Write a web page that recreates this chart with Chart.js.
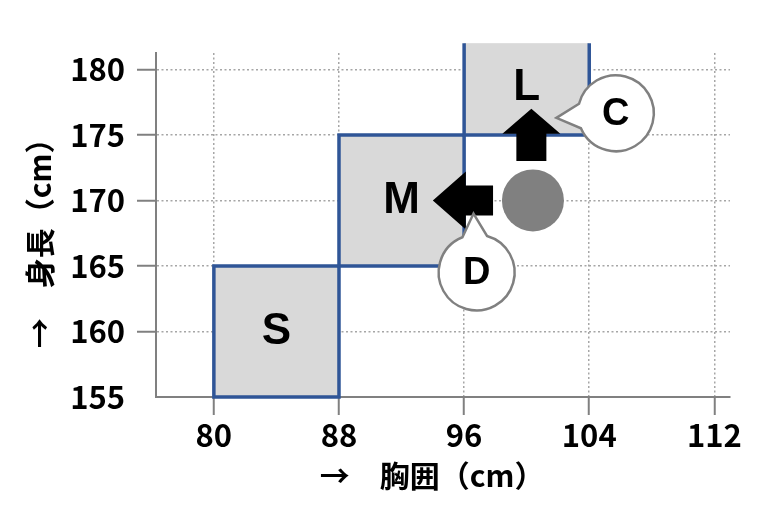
<!DOCTYPE html>
<html lang="ja">
<head>
<meta charset="utf-8">
<title>胸囲と身長のサイズ表</title>
<script src="https://cdn.jsdelivr.net/npm/chart.js@4.4.1/dist/chart.umd.min.js"></script>
<style>
  html, body { margin: 0; padding: 0; background: #fff; }
  #wrap { width: 768px; height: 515px; }
</style>
</head>
<body>
<div id="wrap"><canvas id="sizeChart" width="768" height="515"></canvas></div>
<script>
// tick labels
const chestTicks = [80, 88, 96, 104, 112];
const heightTicks = [155, 160, 165, 170, 175, 180];

// size boxes: chest range x height range
const sizeNames = ['S', 'M', 'L'];
const chestFrom = [80, 88, 96];
const chestTo = [88, 96, 104];
const heightFrom = [155, 165, 175];
const heightTo = [165, 175, 182];
const labelChest = [84, 92, 100];
const labelHeight = [160, 170, 178.6];

// the measured person (grey dot)
const personChest = [100.4];
const personHeight = [170];

// block arrows, from -> to
const arrowFromX = [97.85, 100.3];
const arrowFromY = [170, 173];
const arrowToX = [94, 100.3];
const arrowToY = [170, 177];

// speech bubbles
const calloutText = ['C', 'D'];
const calloutX = [105.7, 96.8];
const calloutY = [176.65, 164.5];
const calloutTipX = [101.9, 96.6];
const calloutTipY = [176.3, 169];

const JP = '"Noto Sans CJK JP", "Noto Sans", sans-serif';
const LATIN = '"Liberation Sans", Arial, sans-serif';
const GREY = '#808080';

const sizeBoxes = {
  id: 'sizeBoxes',
  afterDatasetsDraw(chart) {
    const { ctx, scales: { x, y } } = chart;
    ctx.save();
    for (let i = 0; i < sizeNames.length; i++) {
      const x1 = x.getPixelForValue(chestFrom[i]);
      const x2 = x.getPixelForValue(chestTo[i]);
      const y1 = y.getPixelForValue(heightFrom[i]);
      const y2 = y.getPixelForValue(heightTo[i]);
      ctx.fillStyle = '#d9d9d9';
      ctx.fillRect(x1, y2, x2 - x1, y1 - y2);
      ctx.strokeStyle = '#2f5597';
      ctx.lineWidth = 3.5;
      ctx.beginPath();
      if (heightTo[i] > y.max) {
        // runs off the top: no top edge
        ctx.moveTo(x1, y2);
        ctx.lineTo(x1, y1);
        ctx.lineTo(x2, y1);
        ctx.lineTo(x2, y2);
      } else {
        ctx.rect(x1, y2, x2 - x1, y1 - y2);
      }
      ctx.stroke();
      ctx.fillStyle = '#000';
      ctx.font = 'bold 44px ' + LATIN;
      ctx.textAlign = 'center';
      ctx.textBaseline = 'middle';
      ctx.fillText(sizeNames[i], x.getPixelForValue(labelChest[i]), y.getPixelForValue(labelHeight[i]));
    }
    ctx.restore();
  }
};

function blockArrow(ctx, x1, y1, x2, y2, bodyW, headW, headL) {
  const ang = Math.atan2(y2 - y1, x2 - x1);
  const len = Math.hypot(x2 - x1, y2 - y1);
  ctx.save();
  ctx.translate(x1, y1);
  ctx.rotate(ang);
  ctx.beginPath();
  ctx.moveTo(0, -bodyW / 2);
  ctx.lineTo(len - headL, -bodyW / 2);
  ctx.lineTo(len - headL, -headW / 2);
  ctx.lineTo(len, 0);
  ctx.lineTo(len - headL, headW / 2);
  ctx.lineTo(len - headL, bodyW / 2);
  ctx.lineTo(0, bodyW / 2);
  ctx.closePath();
  ctx.fillStyle = '#000';
  ctx.fill();
  ctx.restore();
}

function bubble(ctx, cx, cy, r, tx, ty, text) {
  const ang = Math.atan2(ty - cy, tx - cx);
  const half = 0.33;
  ctx.save();
  ctx.beginPath();
  ctx.arc(cx, cy, r, ang + half, ang - half + Math.PI * 2);
  ctx.lineTo(tx, ty);
  ctx.closePath();
  ctx.fillStyle = '#fff';
  ctx.fill();
  ctx.strokeStyle = GREY;
  ctx.lineWidth = 2.5;
  ctx.stroke();
  ctx.fillStyle = '#000';
  ctx.font = 'bold 38px ' + LATIN;
  ctx.textAlign = 'center';
  ctx.textBaseline = 'middle';
  ctx.fillText(text, cx, cy + 1);
  ctx.restore();
}

const overlays = {
  id: 'overlays',
  afterDraw(chart) {
    const { ctx, scales: { x, y } } = chart;
    const heads = [33, 25]; // head length per arrow, px
    for (let i = 0; i < arrowFromX.length; i++) {
      blockArrow(ctx,
        x.getPixelForValue(arrowFromX[i]), y.getPixelForValue(arrowFromY[i]),
        x.getPixelForValue(arrowToX[i]), y.getPixelForValue(arrowToY[i]),
        30, 58, heads[i]);
    }
    for (let i = 0; i < calloutText.length; i++) {
      bubble(ctx,
        x.getPixelForValue(calloutX[i]), y.getPixelForValue(calloutY[i]), 38,
        x.getPixelForValue(calloutTipX[i]), y.getPixelForValue(calloutTipY[i]),
        calloutText[i]);
    }
  }
};

const tickFont = { family: JP, size: 31, weight: 'bold' };
const titleFont = { family: JP, size: 30, weight: 'bold' };

new Chart(document.getElementById('sizeChart'), {
  type: 'scatter',
  data: {
    datasets: [{
      data: personChest.map((v, i) => ({ x: v, y: personHeight[i] })),
      pointRadius: 31,
      pointHoverRadius: 31,
      backgroundColor: GREY,
      borderWidth: 0
    }]
  },
  options: {
    responsive: false,
    animation: false,
    events: [],
    layout: { padding: { top: 53, right: 38, left: 0, bottom: 0 } },
    plugins: { legend: { display: false }, tooltip: { enabled: false } },
    scales: {
      x: {
        type: 'linear',
        min: 76.3,
        max: 113,
        afterBuildTicks: s => { s.ticks = chestTicks.map(v => ({ value: v })); },
        afterFit: s => { s.height = 118; },
        ticks: { font: tickFont, color: '#000', padding: 2, maxRotation: 0 },
        grid: {
          color: '#a6a6a6', lineWidth: 1.5,
          tickColor: GREY, tickWidth: 2, tickLength: 18, tickBorderDash: []
        },
        border: { color: GREY, width: 2, dash: [2, 2.5] },
        title: { display: true, text: '→　胸囲（cm）　 ', font: titleFont, color: '#000', padding: { top: 0, bottom: 21 } }
      },
      y: {
        min: 155,
        max: 181.25,
        afterBuildTicks: s => { s.ticks = heightTicks.map(v => ({ value: v })); },
        afterFit: s => { s.width = 156; },
        ticks: { font: tickFont, color: '#000', padding: 12 },
        grid: {
          color: '#a6a6a6', lineWidth: 1.5,
          tickColor: c => (c.tick && c.tick.value === 155 ? 'rgba(0,0,0,0)' : GREY),
          tickWidth: 2, tickLength: 19, tickBorderDash: []
        },
        border: { color: GREY, width: 2, dash: [2, 2.5] },
        title: { display: true, text: '→　身長（cm）　 ', font: titleFont, color: '#000', padding: { top: 22, bottom: 0 } }
      }
    }
  },
  plugins: [sizeBoxes, overlays]
});
</script>
</body>
</html>
